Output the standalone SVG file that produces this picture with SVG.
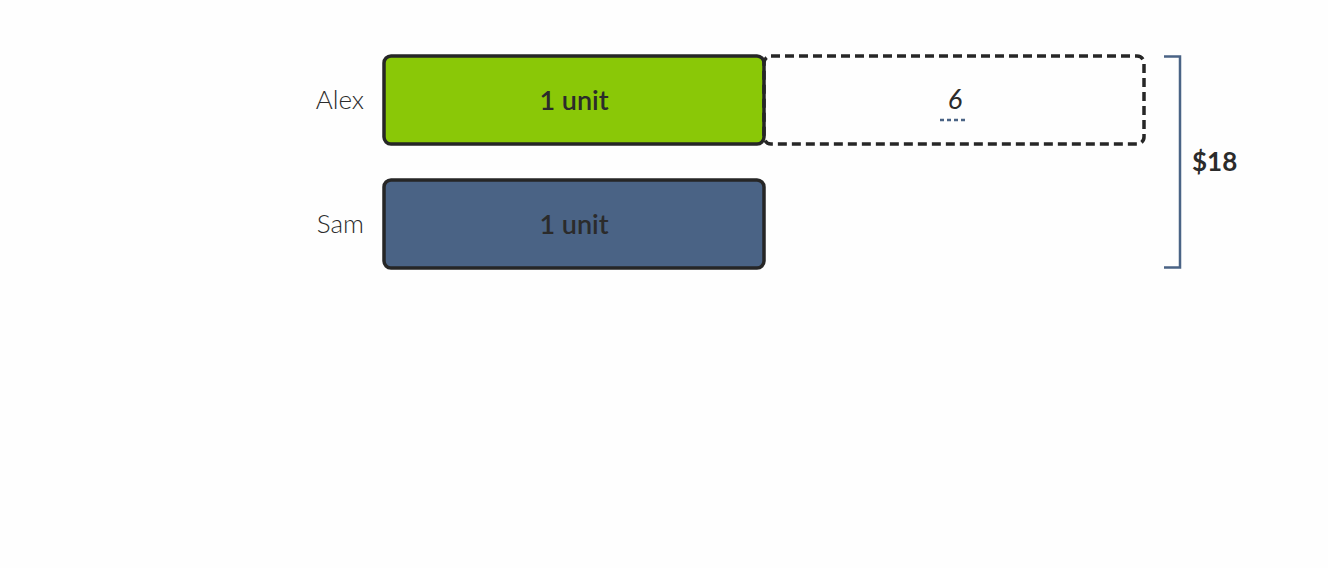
<svg xmlns="http://www.w3.org/2000/svg" width="1328" height="568" viewBox="0 0 1328 568">
<style>
.bar{stroke:#262626;stroke-width:3.5}
.lbl{font-family:Lato,"Open Sans",sans-serif;font-size:26px;font-weight:300;fill:#2b2b2b;text-anchor:end}
.unit{font-family:Lato,"Open Sans",sans-serif;font-size:27px;font-weight:600;fill:#2b2b2b;text-anchor:middle}
</style>
<rect width="1328" height="568" fill="#fefefe"/>
<g id="alex">
<text class="lbl" x="364" y="109">Alex</text>
<rect class="bar" x="384" y="56" width="380" height="88" rx="7" fill="#8ac807"/>
<text class="unit" x="574" y="110">1 unit</text>
</g>
<g id="alex-extra">
<rect x="764" y="56" width="380" height="88" rx="7" fill="none" stroke="#262626" stroke-width="3.5" stroke-dasharray="9 5"/>
<text x="955" y="109" font-family="Lato,'Open Sans',sans-serif" font-size="27" font-style="italic" fill="#2b2b2b" text-anchor="middle">6</text>
<line x1="940" y1="120" x2="968" y2="120" stroke="#4a6385" stroke-width="2.5" stroke-dasharray="4 3"/>
</g>
<g id="sam">
<text class="lbl" x="364" y="233">Sam</text>
<rect class="bar" x="384" y="180" width="380" height="88" rx="7" fill="#4a6385"/>
<text class="unit" x="574" y="234">1 unit</text>
</g>
<g id="connectors">
<path d="M1164 56.5H1180V267.5H1164" fill="none" stroke="#4a6385" stroke-width="2.5"/>
</g>
<g id="total">
<text x="1192" y="171" font-family="Lato,'Open Sans',sans-serif" font-size="26" font-weight="700" fill="#2b2b2b">$18</text>
</g>
</svg>
